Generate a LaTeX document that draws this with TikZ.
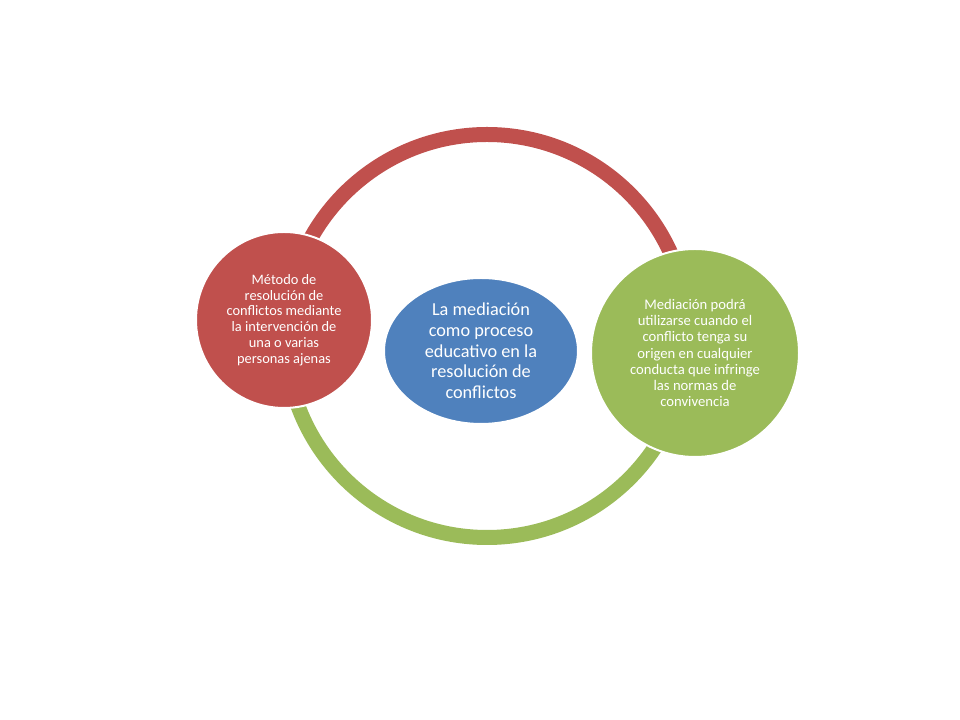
\documentclass[tikz,border=0pt]{standalone}
\usepackage{fontspec}
\setmainfont{Carlito}
\usetikzlibrary{shapes.geometric}
\definecolor{cred}{HTML}{C0504D}
\definecolor{cgreen}{HTML}{9BBB59}
\definecolor{cblue}{HTML}{4F81BD}
\tikzset{
  ringarc/.style={line width=11.25pt},
  bubble/.style={circle, draw=white, line width=1.5pt, inner sep=0pt},
  centreshape/.style={ellipse, fill=cblue, draw=white, line width=1.5pt, inner sep=0pt,
    minimum width=145.5pt, minimum height=109.5pt},
  smalltext/.style={text=white, align=center, font=\fontsize{10.8}{11.8}\selectfont},
  righttext/.style={text=white, align=center, font=\fontsize{11}{12.2}\selectfont},
  bigtext/.style={text=white, align=center, font=\fontsize{13.7}{15.5}\selectfont}
}
\begin{document}
\begin{tikzpicture}[x=0.75pt,y=0.75pt]
\useasboundingbox[fill=white] (0,0) rectangle (960,720);
\coordinate (ring) at (487,384);
\draw[ringarc, cred] ([shift={(180:201.5)}]ring) arc[start angle=180,end angle=0,radius=201.5];
\draw[ringarc, cgreen] ([shift={(180:201.5)}]ring) arc[start angle=180,end angle=360,radius=201.5];

\node[bubble, fill=cred, minimum size=132pt] (left) at (284,400) {};
\node[smalltext] (lefttext) at (left.center) {Método de\\resolución de\\conflictos mediante\\la intervención de\\una o varias\\personas ajenas};

\node[bubble, fill=cgreen, minimum size=156pt] (right) at (695,367) {};
\node[righttext] (righttxt) at (right.center) {Mediación podrá\\utilizarse cuando el\\conflicto tenga su\\origen en cualquier\\conducta que infringe\\las normas de\\convivencia};

\node[centreshape] (centre) at (481,369) {};
\node[bigtext] (centretext) at (centre.center) {La mediación\\como proceso\\educativo en la\\resolución de\\conflictos};
\end{tikzpicture}
\end{document}
